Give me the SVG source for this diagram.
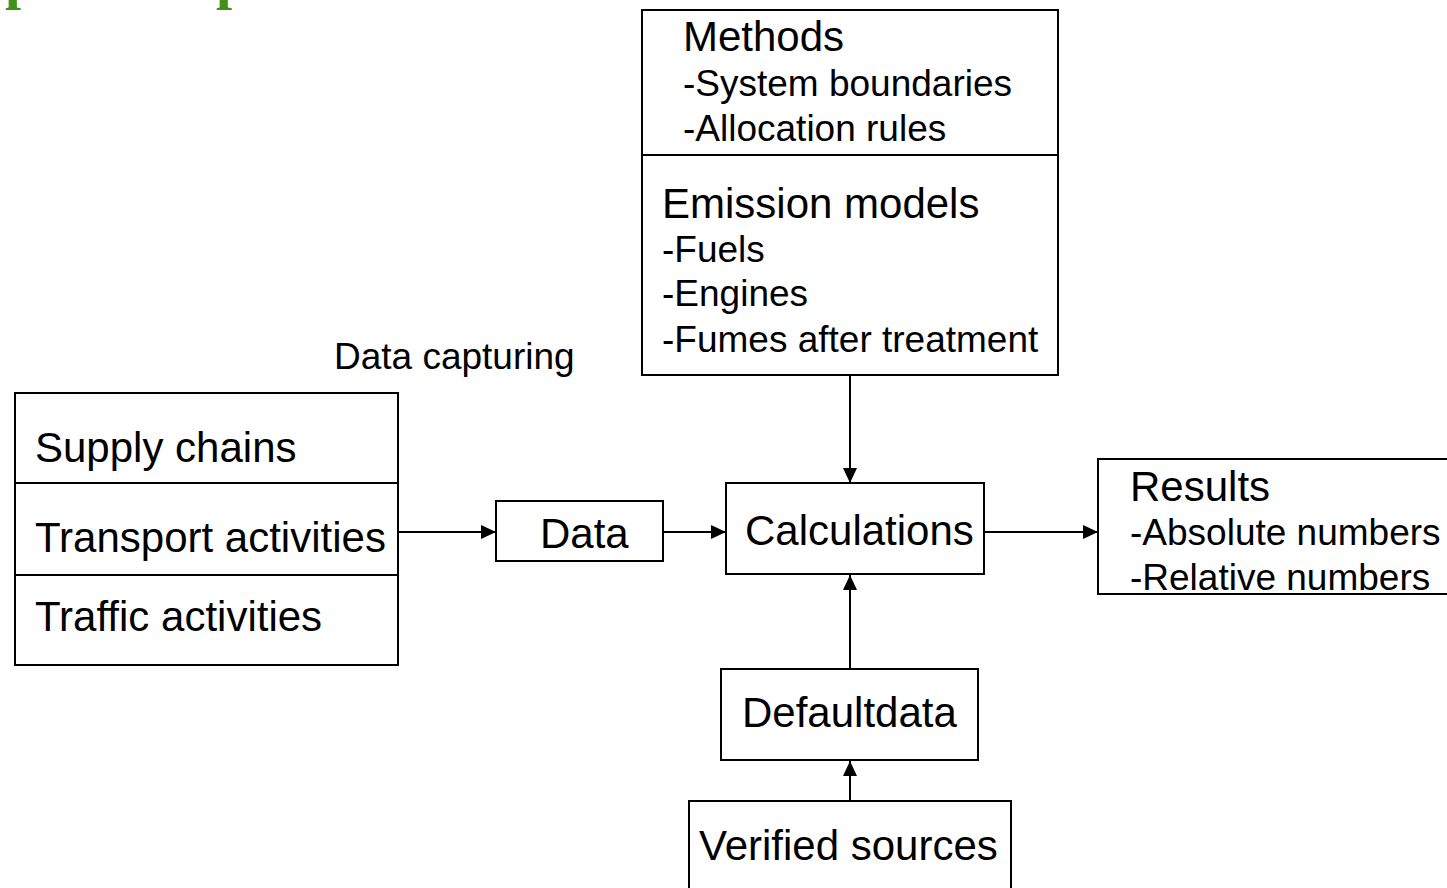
<svg xmlns="http://www.w3.org/2000/svg" width="1447" height="888" viewBox="0 0 1447 888">
  <style>
    .box { fill: #ffffff; stroke: #000000; stroke-width: 2; }
    .big { font-family: "Liberation Sans", Arial, sans-serif; font-size: 42px; fill: #000000; }
    .small { font-family: "Liberation Sans", Arial, sans-serif; font-size: 37px; fill: #000000; }
    .conn { stroke: #000000; stroke-width: 2; fill: none; marker-end: url(#arrow); }
    .title { font-family: "Liberation Serif", "Times New Roman", serif; font-size: 58px; font-weight: bold; fill: #41901a; }
  </style>
  <defs>
    <marker id="arrow" markerUnits="userSpaceOnUse" markerWidth="16" markerHeight="14" refX="15" refY="7" orient="auto">
      <path d="M0,0 L15,7 L0,14 z" fill="#000000"/>
    </marker>
  </defs>
  <rect width="1447" height="888" fill="#ffffff"/>

  <g id="title-fragment">
    <text class="title" x="5" y="-2">p</text>
    <text class="title" x="216" y="-2">p</text>
  </g>

  <g id="connectors">
    <line class="conn" x1="399" y1="532" x2="496" y2="532"/>
    <line class="conn" x1="664" y1="532" x2="726" y2="532"/>
    <line class="conn" x1="850" y1="376" x2="850" y2="483"/>
    <line class="conn" x1="850" y1="668" x2="850" y2="575"/>
    <line class="conn" x1="850" y1="800" x2="850" y2="761"/>
    <line class="conn" x1="985" y1="532" x2="1098" y2="532"/>
  </g>

  <g id="methods">
    <rect class="box" x="642" y="10" width="416" height="145"/>
    <text class="big" x="683" y="51">Methods</text>
    <text class="small" x="683" y="96">-System boundaries</text>
    <text class="small" x="683" y="141">-Allocation rules</text>
  </g>

  <g id="emission-models">
    <rect class="box" x="642" y="155" width="416" height="220"/>
    <text class="big" x="662" y="218">Emission models</text>
    <text class="small" x="662" y="262">-Fuels</text>
    <text class="small" x="662" y="306">-Engines</text>
    <text class="small" x="662" y="352">-Fumes after treatment</text>
  </g>

  <g id="data-capturing">
    <text class="small" x="334" y="369" font-size="31">Data capturing</text>
  </g>

  <g id="sources">
    <rect class="box" x="15" y="393" width="383" height="90"/>
    <text class="big" x="35" y="462">Supply chains</text>
    <rect class="box" x="15" y="483" width="383" height="92"/>
    <text class="big" x="35" y="552">Transport activities</text>
    <rect class="box" x="15" y="575" width="383" height="90"/>
    <text class="big" x="35" y="631">Traffic activities</text>
  </g>

  <g id="data">
    <rect class="box" x="496" y="501" width="167" height="60"/>
    <text class="big" x="540" y="548">Data</text>
  </g>

  <g id="calculations">
    <rect class="box" x="726" y="483" width="258" height="91"/>
    <text class="big" x="745" y="545">Calculations</text>
  </g>

  <g id="results">
    <rect class="box" x="1098" y="459" width="370" height="135"/>
    <text class="big" x="1130" y="501">Results</text>
    <text class="small" x="1130" y="545">-Absolute numbers</text>
    <text class="small" x="1130" y="590">-Relative numbers</text>
  </g>

  <g id="defaultdata">
    <rect class="box" x="721" y="669" width="257" height="91"/>
    <text class="big" x="742" y="727">Defaultdata</text>
  </g>

  <g id="verified-sources">
    <rect class="box" x="689" y="801" width="322" height="100"/>
    <text class="big" x="699" y="860">Verified sources</text>
  </g>
</svg>
